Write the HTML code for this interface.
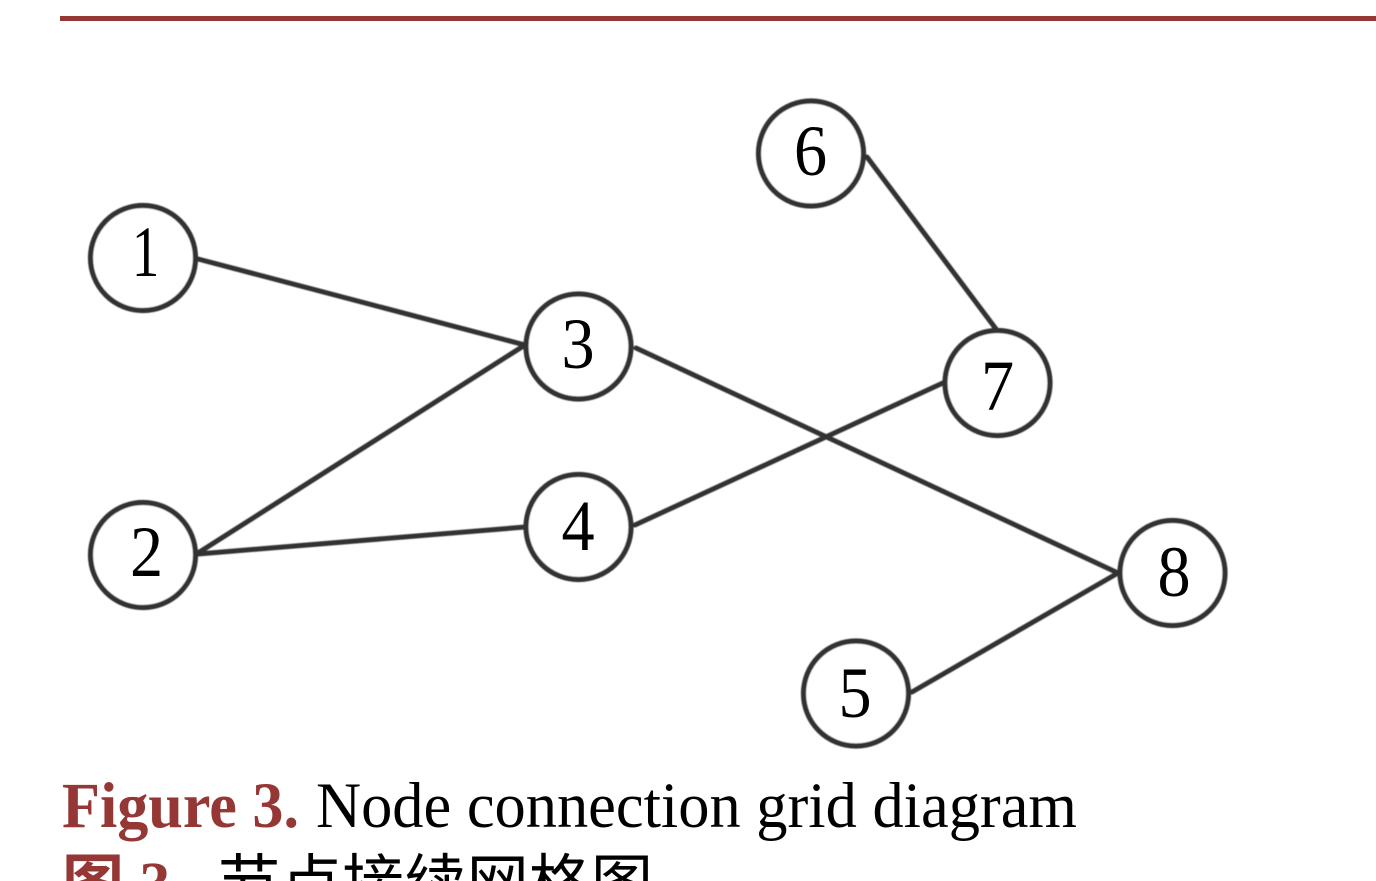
<!DOCTYPE html>
<html><head><meta charset="utf-8"><style>
html,body{margin:0;padding:0;background:#fff;width:1376px;height:881px;overflow:hidden}
svg{display:block}
</style></head><body>
<svg width="1376" height="881" viewBox="0 0 1376 881" xmlns="http://www.w3.org/2000/svg">
<defs><filter id="b" x="-5%" y="-5%" width="110%" height="110%"><feGaussianBlur stdDeviation="0.5"/></filter></defs>
<rect width="1376" height="881" fill="#fff"/>
<rect x="60" y="16" width="1316" height="5" fill="#953735"/>
<g filter="url(#b)">
<g stroke="#333" stroke-width="5" fill="none" stroke-linecap="round">
<line x1="198" y1="259" x2="525" y2="345"/>
<line x1="198" y1="553" x2="525" y2="345"/>
<line x1="198" y1="554" x2="525" y2="527"/>
<line x1="635" y1="525" x2="945" y2="382"/>
<line x1="636" y1="348" x2="1118" y2="573"/>
<line x1="867" y1="157" x2="996" y2="329"/>
<line x1="912" y1="692" x2="1118" y2="573"/>
</g>
<g stroke="#333" stroke-width="5.2" fill="#fff">
<circle cx="143" cy="258" r="52.5"/>
<circle cx="143" cy="555" r="52.5"/>
<circle cx="578.5" cy="346.5" r="52.5"/>
<circle cx="578.5" cy="527" r="52.5"/>
<circle cx="811" cy="153.5" r="52.5"/>
<circle cx="997.5" cy="383" r="52.5"/>
<circle cx="856" cy="693.5" r="52.5"/>
<circle cx="1172.5" cy="573" r="52.5"/>
</g>
</g>
<g font-family="'Liberation Serif',serif" font-size="72" fill="#000" text-anchor="middle">
<text transform="translate(145.5,276) scale(.76,1)">1</text>
<text transform="translate(146.5,576) scale(.92,1)">2</text>
<text transform="translate(578,368) scale(.92,1)">3</text>
<text transform="translate(578,550) scale(.92,1)">4</text>
<text transform="translate(810.5,175) scale(.92,1)">6</text>
<text transform="translate(997.5,410) scale(.92,1)">7</text>
<text transform="translate(855,717) scale(.92,1)">5</text>
<text transform="translate(1174,596) scale(.92,1)">8</text>
</g>
<g font-family="'Liberation Serif',serif" font-size="65">
<text x="62" y="827" font-weight="bold" fill="#953735" textLength="237" lengthAdjust="spacingAndGlyphs">Figure 3.</text>
<text x="316" y="827" fill="#000" textLength="761" lengthAdjust="spacingAndGlyphs">Node connection grid diagram</text>
</g>
<text x="62" y="905" font-family="'Liberation Serif','Noto Sans CJK SC',sans-serif" font-size="62" font-weight="bold" fill="#953735">图 3.</text>
<text x="218" y="905" font-family="'Liberation Sans','Noto Sans CJK SC',sans-serif" font-size="62" fill="#000" textLength="435" lengthAdjust="spacingAndGlyphs">节点接续网格图</text>
</svg>
</body></html>
